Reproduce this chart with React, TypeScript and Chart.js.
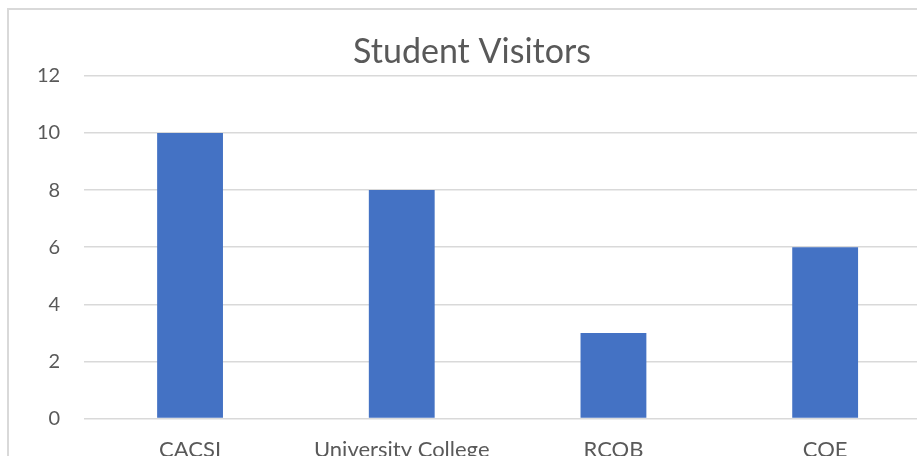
import React, { useEffect, useRef } from "react";
import { Chart, registerables } from "chart.js";

Chart.register(...registerables);

const categories = ["CACSI", "University College", "RCOB", "COE"];
const visitors = [10, 8, 3, 6];
const yTicks = [0, 2, 4, 6, 8, 10, 12];
const chartTitle = "Student Visitors";

export default function App() {
  const ref = useRef<HTMLCanvasElement | null>(null);

  useEffect(() => {
    if (!ref.current) return;
    const chart = new Chart(ref.current, {
      type: "bar",
      data: {
        labels: categories,
        datasets: [
          {
            label: "Visitors",
            data: visitors,
            backgroundColor: "#4472C4",
            borderWidth: 0,
            categoryPercentage: 1,
            barPercentage: 0.311,
          },
        ],
      },
      options: {
        responsive: false,
        animation: false,
        layout: { padding: { left: 13, right: 14, top: 0, bottom: 0 } },
        plugins: {
          legend: { display: false },
          tooltip: { enabled: false },
          title: {
            display: true,
            text: chartTitle,
            color: "#595959",
            font: { family: "Lato", size: 34, weight: "normal" },
            padding: { top: 32, bottom: 3 },
          },
        },
        scales: {
          x: {
            grid: { display: false, drawTicks: false },
            border: { display: false },
            ticks: {
              color: "#595959",
              font: { family: "Lato", size: 22 },
              padding: 18,
              maxRotation: 0,
              autoSkip: false,
            },
          },
          y: {
            min: 0,
            max: 12,
            afterBuildTicks: (axis: any) => {
              axis.ticks = yTicks.map((v) => ({ value: v }));
            },
            grid: { color: "#d9d9d9", lineWidth: 1.5, drawTicks: false },
            border: { display: false },
            ticks: {
              color: "#595959",
              font: { family: "Lato", size: 20 },
              padding: 24,
            },
          },
        },
      },
    });
    return () => chart.destroy();
  }, []);

  return (
    <div
      style={{
        position: "fixed",
        left: 0,
        top: 0,
        width: 917,
        height: 456,
        overflow: "hidden",
        background: "#fff",
      }}
    >
      <div
        style={{
          position: "absolute",
          left: 7,
          top: 8,
          width: 1000,
          height: 600,
          border: "2px solid #d9d9d9",
          boxSizing: "border-box",
        }}
      />
      <canvas
        ref={ref}
        width={945}
        height={481}
        style={{ position: "absolute", left: 0, top: 0, width: 945, height: 481 }}
      />
    </div>
  );
}
